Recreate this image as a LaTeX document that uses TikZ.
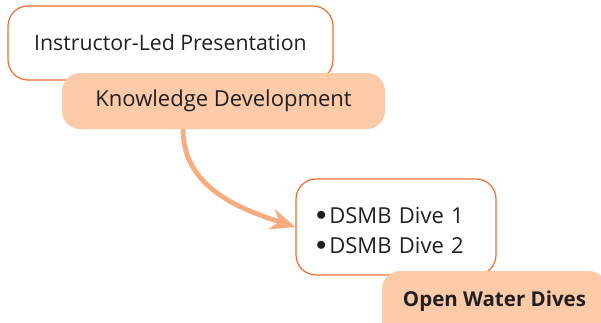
\documentclass[tikz,border=0pt]{standalone}
\usepackage{fontspec}
\setmainfont{Open Sans}
\usepackage{tikz}
\usetikzlibrary{positioning, arrows.meta}

\definecolor{edgeorange}{HTML}{F26B2E}
\definecolor{peach}{HTML}{FBCAA9}
\definecolor{arrowpeach}{HTML}{F8AB7E}
\definecolor{textgray}{HTML}{231F20}

\newcommand{\divebullet}{\raisebox{2.5pt}{$\bullet$}\hspace{3pt}}

\begin{document}
\begin{tikzpicture}[
    x=1pt, y=-1pt,
    outlinebox/.style={rectangle, draw=edgeorange, line width=1.2pt, rounded corners=20pt, fill=white, font=\fontsize{21.3}{30}\selectfont, text=textgray},
    fillbox/.style={rectangle, fill=peach, rounded corners=18pt, font=\fontsize{22}{30}\selectfont, text=textgray},
    arrow/.style={-{Stealth[length=25pt, width=21pt, inset=8pt]}, line width=4.8pt, arrowpeach},
]
\useasboundingbox (0,0) rectangle (601,322);
\clip (0,0) rectangle (601,322);

\node[outlinebox, minimum width=325pt, minimum height=74pt] (instructor) at (170.5,43) {Instructor-Led Presentation};
\node[fillbox, minimum width=323pt, minimum height=56pt] (knowledge) at (223.5,101) {Knowledge Development};

\node[outlinebox, minimum height=96pt, inner xsep=20pt, text width=160pt, align=left, text height=23pt, font=\fontsize{22}{30}\selectfont] (dsmb) at (396,227) {\divebullet DSMB Dive 1\\\divebullet DSMB Dive 2};
\node[fillbox, minimum width=225pt, minimum height=70pt, font=\fontsize{20.5}{24}\selectfont\bfseries, text depth=15.5pt] (openwater) at (494.5,306) {Open Water Dives};

\draw[arrow] (knowledge.south -| 183,0) to[out=-90, in=162] (dsmb.west);

\end{tikzpicture}
\end{document}
